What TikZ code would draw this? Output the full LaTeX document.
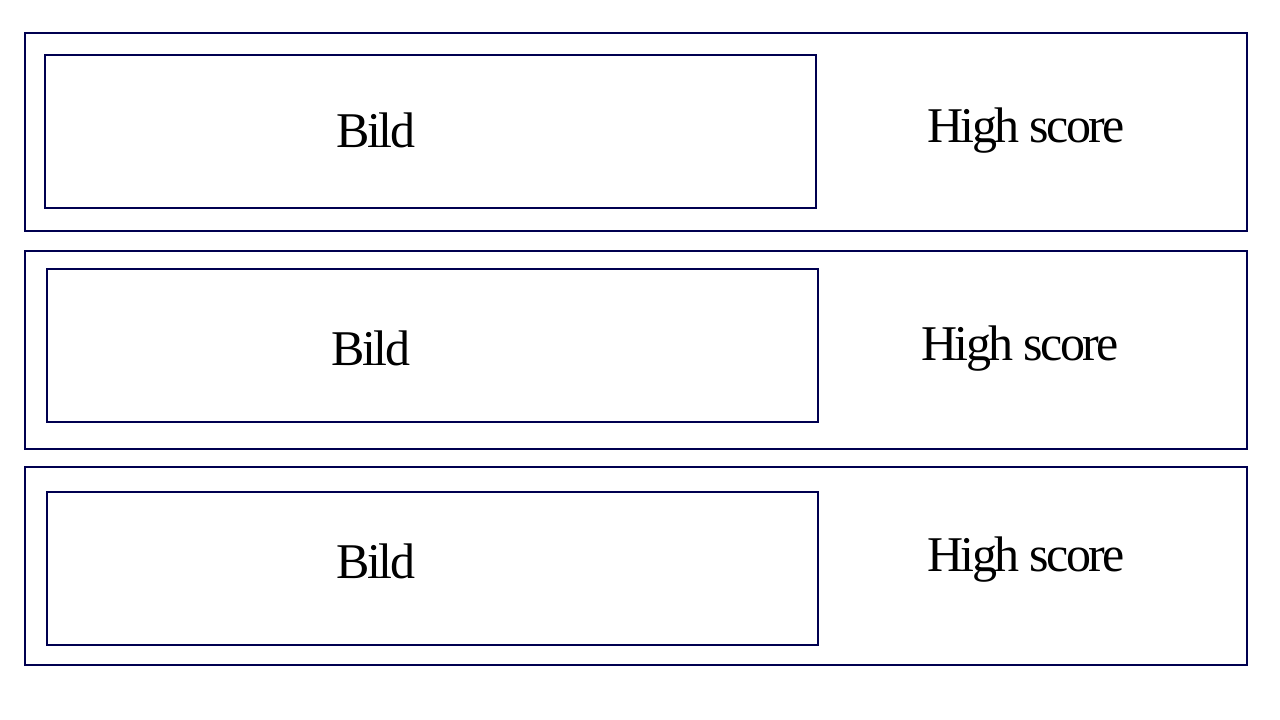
\documentclass[tikz,border=0pt]{standalone}
\usepackage{fontspec}
\setmainfont{Liberation Serif}
\newfontfamily\lbl[LetterSpace=-5]{Liberation Serif}
\definecolor{navy}{RGB}{0,0,80}
\begin{document}
\begin{tikzpicture}[x=0.75pt,y=-0.75pt,
  frame/.style={draw=navy,line width=1.5pt},
  txt/.style={anchor=base,inner sep=0pt,font=\lbl\fontsize{37.5pt}{40pt}\selectfont,text=black}]
\useasboundingbox[fill=white] (0,0) rectangle (1280,720);
% row 1
\draw[frame] (25,33) rectangle (1247,231);
\draw[frame] (45,55) rectangle (816,208);
\node[txt] (b1) at (376,148) {Bild};
\node[txt] (h1) at (1026,143) {High score};
% row 2
\draw[frame] (25,251) rectangle (1247,449);
\draw[frame] (47,269) rectangle (818,422);
\node[txt] (b2) at (371,365) {Bild};
\node[txt] (h2) at (1020,360) {High score};
% row 3
\draw[frame] (25,467) rectangle (1247,665);
\draw[frame] (47,492) rectangle (818,645);
\node[txt] (b3) at (376,578) {Bild};
\node[txt] (h3) at (1026,571) {High score};
\end{tikzpicture}
\end{document}
